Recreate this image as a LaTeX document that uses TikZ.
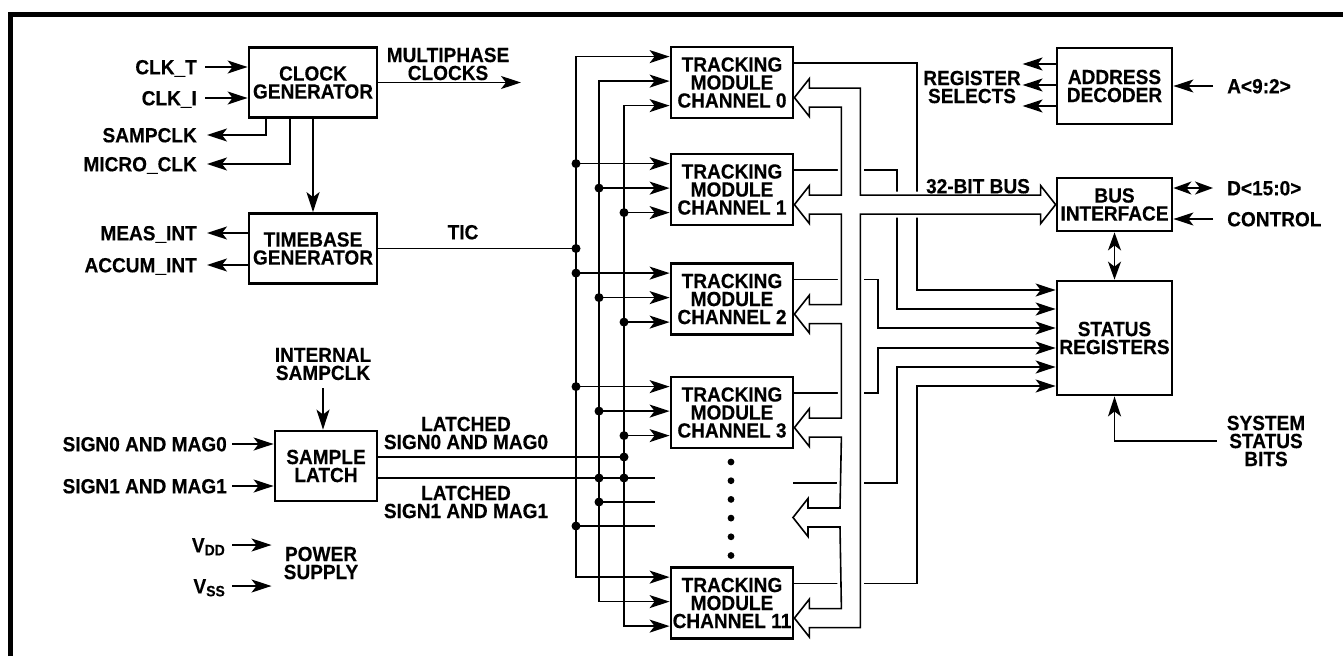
\documentclass[tikz,border=0pt]{standalone}
\usepackage{fontspec}
\setmainfont{Liberation Sans}[FakeStretch=0.93, BoldFeatures={FakeBold=0.3}]
\usetikzlibrary{arrows.meta, positioning, calc, backgrounds}
\newcommand{\diafont}{\fontsize{20.5}{18}\selectfont\bfseries}
\tikzset{
    block/.style={
        rectangle, draw, line width=2.8pt, align=center,
        inner sep=0pt, font=\diafont
    },
    module/.style={block, minimum width=122pt, minimum height=71pt},
    lbl/.style={font=\diafont, inner sep=0pt, text height=14.6pt, text depth=0pt},
    mlbl/.style={font=\diafont, inner sep=0pt, align=center},
    sig/.style={line width=1.6pt},
    arr/.style={sig, -{Stealth[length=20pt, width=13pt, inset=5pt]}},
    darr/.style={sig, {Stealth[length=18pt, width=13pt, inset=5pt]}-{Stealth[length=18pt, width=13pt, inset=5pt]}},
    bus/.style={sig, fill=white, line join=miter, preaction={draw=white, line width=7pt}}
}

\begin{document}
\begin{tikzpicture}[x=1pt, y={(0pt,-1pt)}]
    \useasboundingbox (0,0) rectangle (1343,656);
    \draw[line width=5pt] (10.5,656) -- (10.5,14.5) -- (1343,14.5);

    \node[block, minimum width=128pt, minimum height=70pt] (ck) at (313,82.5) {CLOCK\\GENERATOR};
    \node[block, minimum width=128pt, minimum height=70pt] (tb) at (313,248.5) {TIMEBASE\\GENERATOR};
    \node[block, minimum width=102pt, minimum height=70pt] (sl) at (326,466) {SAMPLE\\LATCH};
    \node[block, minimum width=115pt, minimum height=76pt] (ad) at (1114.5,86) {ADDRESS\\DECODER};
    \node[block, minimum width=115pt, minimum height=53pt] (bi) at (1114.5,204.5) {BUS\\INTERFACE};
    \node[block, minimum width=115pt, minimum height=114pt] (st) at (1114.5,338) {STATUS\\REGISTERS};

    \foreach \m/\y/\n in {m0/82.5/0, m1/189.5/1, m2/299/2, m3/412.5/3, m11/603/11} {
        \node[module] (\m) at (732,\y) {TRACKING\\MODULE\\CHANNEL \n};
        \coordinate (\m-a) at ($(\m.north west)+(0,11)$);
        \coordinate (\m-b) at ($(\m.north west)+(0,35.5)$);
        \coordinate (\m-c) at ($(\m.north west)+(0,60)$);
        \coordinate (\m-out) at ($(\m.north east)+(0,17.5)$);
        \coordinate (\m-tip) at ($(\m.north east)+(0,52)$);
    }
    \coordinate (mx-a) at (655,478);
    \coordinate (mx-b) at (655,502);
    \coordinate (mx-c) at (655,526);
    \coordinate (mx-out) at (793,483);
    \coordinate (mx-tip) at (793,517.5);
    \foreach \i in {0,...,5}
        \fill (731,462+18.7*\i) circle (3.4pt);

    \coordinate (busA) at (576,0);
    \coordinate (busB) at (599,0);
    \coordinate (busC) at (624,0);
    \coordinate (trA) at (917,0);
    \coordinate (trB) at (897,0);
    \coordinate (trC) at (878,0);
    \coordinate (bus-tip) at (bi.west |- m1-tip);
    \foreach \i/\dy in {1/-48, 2/-29, 3/-10, 4/10, 5/29, 6/48}
        \coordinate (st-\i) at ($(st.west)+(0,\dy)$);

    % clock and timebase
    \node[lbl, anchor=east] (clkt) at (197,67) {CLK\_T};
    \node[lbl, anchor=east] (clki) at (197,98) {CLK\_I};
    \node[lbl, anchor=east] (sampclk) at (197,135) {SAMPCLK};
    \node[lbl, anchor=east] (microclk) at (197,164) {MICRO\_CLK};
    \node[lbl, anchor=east] (measint) at (197,233) {MEAS\_INT};
    \node[lbl, anchor=east] (accumint) at (197,265) {ACCUM\_INT};
    \node[mlbl] (mpc) at (448,64) {MULTIPHASE\\CLOCKS};
    \coordinate (mpend) at (521,82.5);
    \node[lbl] (tic) at (463,232) {TIC};

    \draw[arr, shorten <=8pt] (clkt.east) -- (clkt.east -| ck.west);
    \draw[arr, shorten <=8pt] (clki.east) -- (clki.east -| ck.west);
    \draw[arr] ($(ck.south)+(-47,0)$) |- ($(sampclk.east)+(10,0)$);
    \draw[arr] ($(ck.south)+(-23,0)$) |- ($(microclk.east)+(10,0)$);
    \draw[arr] (ck.east) -- (mpend);
    \draw[arr] (ck.south) -- (tb.north);
    \draw[arr] ($(tb.west)+(0,-15.5)$) -- ($(measint.east)+(10,0)$);
    \draw[arr] ($(tb.west)+(0,16.5)$) -- ($(accumint.east)+(10,0)$);
    \draw[sig] (tb.east) -- (tb.east -| busA);
    \fill (tb.east -| busA) circle (4.5pt);

    % sample latch and power
    \node[mlbl] (isc) at (323,364) {INTERNAL\\SAMPCLK};
    \node[lbl, anchor=east] (sg0) at (227,444) {SIGN0 AND MAG0};
    \node[lbl, anchor=east] (sg1) at (227,486) {SIGN1 AND MAG1};
    \node[mlbl] (lat0) at (466,433) {LATCHED\\SIGN0 AND MAG0};
    \node[mlbl] (lat1) at (466,502) {LATCHED\\SIGN1 AND MAG1};
    \node[lbl, anchor=east] (vdd) at (225,545) {V\raisebox{-3pt}{\fontsize{15}{15}\selectfont DD}};
    \node[lbl, anchor=east] (vss) at (225,586) {V\raisebox{-3pt}{\fontsize{15}{15}\selectfont SS}};
    \node[mlbl] (ps) at (321,563) {POWER\\SUPPLY};

    \draw[arr, shorten <=8pt] (isc.south) -- (isc.south |- sl.north);
    \draw[arr, shorten <=5pt] (sg0.east) -- (sg0.east -| sl.west);
    \draw[arr, shorten <=5pt] (sg1.east) -- (sg1.east -| sl.west);
    \draw[arr, shorten <=7pt, shorten >=12pt] (vdd.east) -- (vdd.east -| ps.west);
    \draw[arr, shorten <=7pt, shorten >=12pt] (vss.east) -- (vss.east -| ps.west);

    \coordinate (lo0) at ($(sl.east)+(0,-9)$);
    \draw[sig] (lo0) -- (lo0 -| busC);
    \draw[sig] (sl.east |- mx-a) -- (mx-a);
    \draw[sig] (mx-b -| busB) -- (mx-b);
    \draw[sig] (mx-c -| busA) -- (mx-c);
    \foreach \p in {lo0 -| busC, mx-a -| busB, mx-a -| busC, mx-b -| busB, mx-c -| busA}
        \fill (\p) circle (4.5pt);

    % module inputs
    \draw[arr] (m11-a -| busA) |- (m0-a);
    \draw[arr] (m0-a -| busA) |- (m11-a);
    \draw[arr] (m11-b -| busB) |- (m0-b);
    \draw[arr] (m0-b -| busB) |- (m11-b);
    \draw[arr] (m11-c -| busC) |- (m0-c);
    \draw[arr] (m0-c -| busC) |- (m11-c);
    \foreach \m in {m1,m2,m3} {
        \draw[arr] (\m-a -| busA) -- (\m-a);
        \draw[arr] (\m-b -| busB) -- (\m-b);
        \draw[arr] (\m-c -| busC) -- (\m-c);
        \fill (\m-a -| busA) circle (4.5pt);
        \fill (\m-b -| busB) circle (4.5pt);
        \fill (\m-c -| busC) circle (4.5pt);
    }

    % outputs and bus
    \begin{scope}[on background layer]
        \draw[arr] (m0-out) -| (trA |- st-1) -- (st-1);
        \draw[arr] (m1-out) -| (trB |- st-2) -- (st-2);
        \draw[arr] (m2-out) -| (trC |- st-3) -- (st-3);
        \draw[arr] (m3-out) -| (trC |- st-4) -- (st-4);
        \draw[arr] (mx-out) -| (trB |- st-5) -- (st-5);
        \draw[arr] (m11-out) -| (trA |- st-6) -- (st-6);
        \draw[bus]
            ($(m0-tip)+(66,-9.5)$) -- ++(-51,0) -- ++(0,-9.5) -- (m0-tip) -- ++(15,19) -- ++(0,-9.5) -- ++(32,0)
            -- ($(m1-tip)+(47,-9.5)$) -- ++(-32,0) -- ++(0,-9.5) -- (m1-tip) -- ++(15,19) -- ++(0,-9.5) -- ++(32,0)
            -- ($(m2-tip)+(47,-9.5)$) -- ++(-32,0) -- ++(0,-9.5) -- (m2-tip) -- ++(15,19) -- ++(0,-9.5) -- ++(32,0)
            -- ($(m3-tip)+(47,-9.5)$) -- ++(-32,0) -- ++(0,-9.5) -- (m3-tip) -- ++(15,19) -- ++(0,-9.5) -- ++(32,0)
            -- ($(mx-tip)+(47,-9.5)$) -- ++(-32,0) -- ++(0,-9.5) -- (mx-tip) -- ++(15,19) -- ++(0,-9.5) -- ++(32,0)
            -- ($(m11-tip)+(47,-9.5)$) -- ++(-32,0) -- ++(0,-9.5) -- (m11-tip) -- ++(15,19) -- ++(0,-9.5) -- ++(51,0)
            -- ($(m1-tip)+(66,9.5)$) -- ($(bus-tip)+(-15,9.5)$) -- ++(0,9.5) -- (bus-tip) -- ++(-15,-19) -- ++(0,9.5)
            -- ($(m1-tip)+(66,-9.5)$) -- cycle;
    \end{scope}

    % host side
    \node[mlbl] (rs) at (972,87) {REGISTER\\SELECTS};
    \node[lbl, anchor=west] (addr) at (1227,86) {A<9:2>};
    \node[lbl, anchor=west] (dbus) at (1227,188) {D<15:0>};
    \node[lbl, anchor=west] (ctrl) at (1227,219) {CONTROL};
    \node[lbl] (bus32) at (978,186) {32-BIT BUS};
    \node[mlbl] (ssb) at (1266,441) {SYSTEM\\STATUS\\BITS};

    \foreach \dy in {-22,-1,20}
        \draw[arr] ($(ad.west)+(0,\dy)$) -- ++(-33,0);
    \draw[arr] ($(addr.west)+(-14,0)$) -- (addr.west -| ad.east);
    \draw[darr] ($(dbus.west)+(-14,0)$) -- (dbus.west -| bi.east);
    \draw[arr] ($(ctrl.west)+(-14,0)$) -- (ctrl.west -| bi.east);
    \draw[darr] (bi.south) -- (st.north);
    \draw[arr] ($(ssb.west)+(-10,0)$) -| (st.south);
\end{tikzpicture}
\end{document}
